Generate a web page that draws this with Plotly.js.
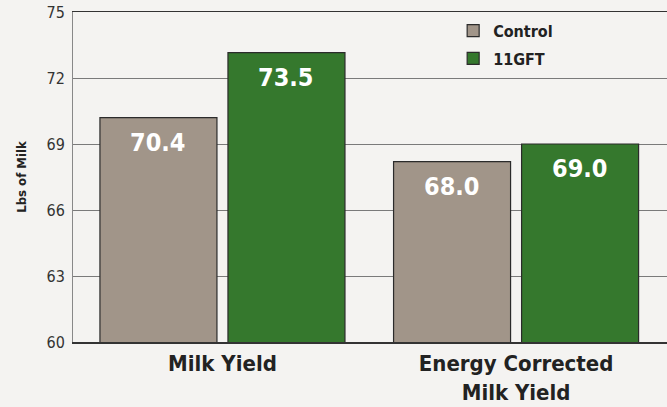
<!DOCTYPE html>
<html>
<head>
<meta charset="utf-8">
<script src="https://cdn.plot.ly/plotly-3.0.1.min.js"></script>
<style>html,body{margin:0;padding:0;background:#f4f3f1;}</style>
</head>
<body>
<div id="chart" style="width:667px;height:407px;"></div>
<script>
const categories = ["Milk Yield", "Energy Corrected<br>Milk Yield"];
const seriesNames = ["Control", "11GFT"];
const controlValues = [70.2, 68.2];
const gftValues = [73.15, 69.0];
const controlLabels = ["70.4", "68.0"];
const gftLabels = ["73.5", "69.0"];
const yTicks = [60, 63, 66, 69, 72, 75];

const FONT = "'DejaVu Sans Condensed', 'Liberation Sans', sans-serif";
const seriesLabels = [controlLabels, gftLabels];

function barTrace(name, values, color) {
  return {
    type: "bar",
    name: name,
    legendgroup: name,
    x: categories,
    y: values,
    marker: {color: color, line: {color: "#2b2b2b", width: 1.2}},
    hoverinfo: "skip"
  };
}

const data = [
  barTrace(seriesNames[0], controlValues, "#a19589"),
  barTrace(seriesNames[1], gftValues, "#35782d")
];

const layout = {
  width: 667, height: 407,
  margin: {l: 73, r: 0, t: 12, b: 65},
  paper_bgcolor: "#f4f3f1",
  plot_bgcolor: "#f4f3f1",
  barmode: "group",
  bargap: 0.128,
  bargroupgap: 0.086,
  font: {family: FONT, color: "#222"},
  showlegend: true,
  legend: {
    x: 0.64, y: 0.995, xanchor: "left", yanchor: "top",
    bgcolor: "rgba(0,0,0,0)",
    font: {family: FONT, size: 16, color: "#222", weight: "bold"},
    itemwidth: 30, tracegroupgap: 4
  },
  xaxis: {
    type: "category",
    range: [-0.509, 1.514],
    showgrid: false,
    showline: true, linecolor: "#333", linewidth: 1.5, mirror: true,
    ticks: "", ticklabelstandoff: 1,
    tickfont: {family: FONT, size: 22, color: "#222", weight: "bold"},
    fixedrange: true
  },
  yaxis: {
    range: [60, 75],
    tickvals: yTicks,
    ticktext: yTicks.map(String),
    showgrid: true, gridcolor: "#7a7a7a", gridwidth: 1,
    showline: true, linecolor: "#888", linewidth: 1,
    zeroline: false,
    ticks: "", ticklabelstandoff: 4,
    tickfont: {family: FONT, size: 16, color: "#333"},
    title: {text: "Lbs of Milk", font: {family: FONT, size: 13, color: "#222", weight: "bold"}, standoff: 16},
    fixedrange: true
  }
};

const gd = document.getElementById("chart");
Plotly.newPlot(gd, data, layout, {displayModeBar: false, staticPlot: true}).then(function () {
  // place value labels at the bar centres computed by Plotly
  const annotations = [];
  gd.calcdata.forEach(function (cd, i) {
    cd.forEach(function (pt, j) {
      annotations.push({
        x: pt.x, y: pt.y, xref: "x", yref: "y",
        text: seriesLabels[i][j],
        showarrow: false, yanchor: "top", xanchor: "center", yshift: -8,
        font: {family: FONT, size: 25, color: "#ffffff", weight: "bold"}
      });
    });
  });
  return Plotly.relayout(gd, {annotations: annotations});
});
</script>
</body>
</html>
